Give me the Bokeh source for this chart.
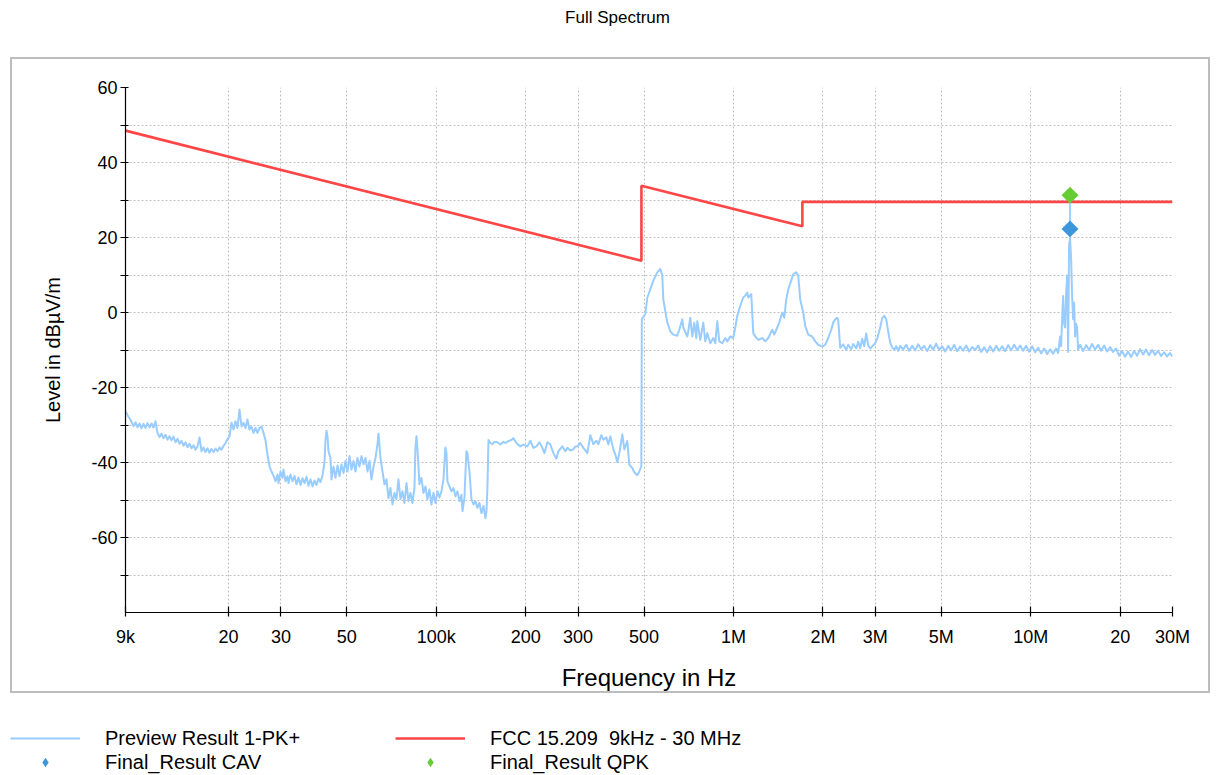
import numpy as np
from bokeh.plotting import figure
from bokeh.layouts import column
from bokeh.models import FixedTicker, Legend, LegendItem, Label
from bokeh.embed import file_html
from bokeh.resources import INLINE

# ---------------- data ----------------
title_text = "Full Spectrum"
x_label = "Frequency in Hz"
y_label = "Level in dBµV/m"

x_tick_values = [9000, 20000, 30000, 50000, 100000, 200000, 300000, 500000,
                 1000000, 2000000, 3000000, 5000000, 10000000, 20000000, 30000000]
x_tick_labels = ["9k", "20", "30", "50", "100k", "200", "300", "500",
                 "1M", "2M", "3M", "5M", "10M", "20", "30M"]
y_tick_values = [-70, -60, -50, -40, -30, -20, -10, 0, 10, 20, 30, 40, 50, 60]
y_tick_labels = ["", "-60", "", "-40", "", "-20", "", "0", "", "20", "", "40", "", "60"]

# Preview Result 1-PK+ (frequency in kHz, level in dBµV/m)
preview_freq_khz = [
    9.00, 9.21, 9.36, 9.58, 9.73, 9.88, 10.03, 10.19, 10.35, 10.51, 10.67, 10.84,
    11.01, 11.18, 11.35, 11.53, 11.71, 11.89, 12.08, 12.27, 12.46, 12.65, 12.85, 13.05,
    13.26, 13.47, 13.68, 13.89, 14.11, 14.33, 14.55, 14.78, 15.01, 15.24, 15.48, 15.72,
    15.97, 16.22, 16.47, 16.73, 16.99, 17.25, 17.52, 17.80, 18.07, 18.36, 18.64, 18.93,
    19.23, 19.53, 19.83, 20.15, 20.46, 20.78, 21.10, 21.43, 21.77, 22.11, 22.45, 22.80,
    23.16, 23.52, 23.88, 24.26, 24.64, 25.02, 25.41, 25.81, 26.21, 26.62, 27.04, 27.46,
    27.89, 28.32, 28.77, 29.22, 29.45, 29.91, 30.37, 30.61, 31.09, 31.57, 31.82, 32.31,
    32.82, 33.33, 33.85, 34.38, 34.92, 35.46, 36.02, 36.58, 37.15, 37.73, 38.32, 38.92,
    39.53, 40.14, 40.77, 41.41, 42.05, 42.38, 42.71, 43.04, 43.38, 44.05, 44.40, 45.09,
    45.80, 46.51, 47.24, 47.97, 48.72, 49.48, 50.25, 51.04, 51.83, 52.64, 53.46, 54.29,
    55.14, 56.01, 56.88, 57.77, 58.67, 59.59, 60.52, 61.46, 62.42, 63.39, 63.89, 64.39,
    64.89, 65.90, 66.93, 67.98, 69.04, 70.11, 71.21, 72.32, 73.45, 74.59, 75.75, 76.93,
    78.14, 79.36, 80.60, 81.86, 83.13, 84.43, 85.08, 85.75, 86.42, 87.76, 89.14, 90.52,
    91.93, 93.36, 94.83, 96.31, 97.81, 99.34, 100.9, 102.5, 104.1, 105.7, 107.3, 108.2,
    109.0, 110.7, 112.5, 114.2, 116.0, 117.8, 119.7, 121.5, 122.5, 124.4, 125.4, 126.3,
    127.3, 129.3, 131.3, 133.4, 135.4, 137.5, 139.7, 141.8, 144.1, 146.3, 147.5, 148.6,
    149.8, 152.1, 154.5, 156.9, 160.6, 164.3, 168.2, 170.8, 174.8, 178.9, 181.7, 184.5,
    187.4, 191.8, 196.3, 199.4, 202.5, 207.3, 212.2, 217.2, 222.3, 227.5, 231.0, 236.5,
    242.0, 247.7, 253.5, 257.5, 265.6, 271.8, 276.1, 282.6, 289.2, 293.7, 298.3, 305.3,
    312.5, 322.3, 329.9, 337.6, 345.6, 351.0, 359.2, 364.8, 373.4, 379.2, 385.1, 394.2,
    400.3, 406.6, 412.9, 422.6, 429.2, 439.2, 446.1, 456.6, 463.7, 474.6, 482.1, 489.6,
    491.5, 505.0, 512.9, 524.9, 537.2, 554.1, 567.2, 576.0, 580.5, 598.8, 612.9, 627.3,
    646.9, 657.1, 672.5, 677.8, 699.0, 704.5, 715.5, 726.7, 738.0, 749.6, 755.4, 773.1,
    791.3, 803.6, 816.2, 835.4, 855.1, 868.4, 882.0, 895.7, 916.7, 938.2, 952.8, 975.3,
    998.2, 1013.8, 1029.6, 1053.8, 1078.6, 1095.5, 1112.5, 1121.1, 1147.5, 1165.4, 1183.6, 1211.5,
    1249.5, 1278.9, 1309.0, 1350.2, 1371.2, 1403.4, 1425.3, 1458.8, 1481.6, 1504.8, 1528.3, 1564.2,
    1588.5, 1626.0, 1651.3, 1677.0, 1716.4, 1743.2, 1784.3, 1840.3, 1883.6, 1927.9, 1988.6, 2035.2,
    2083.0, 2132.1, 2165.5, 2199.2, 2233.4, 2250.9, 2286.0, 2339.7, 2394.8, 2432.1, 2489.3, 2528.0,
    2587.6, 2628.1, 2669.1, 2710.6, 2753.1, 2796.0, 2839.5, 2884.0, 2951.7, 2997.6, 3044.4, 3116.1,
    3164.6, 3214.0, 3264.4, 3315.3, 3366.9, 3419.7, 3473.1, 3527.3, 3582.2, 3638.0, 3723.0, 3811.0,
    3900.0, 3992.0, 4086.0, 4182.0, 4281.0, 4381.0, 4484.0, 4589.0, 4698.0, 4808.0, 4921.0, 5037.0,
    5155.0, 5276.0, 5400.0, 5527.0, 5656.0, 5790.0, 5926.0, 6065.0, 6208.0, 6354.0, 6503.0, 6656.0,
    6813.0, 6973.0, 7136.0, 7304.0, 7476.0, 7652.0, 7832.0, 8015.0, 8204.0, 8397.0, 8594.0, 8796.0,
    9003.0, 9215.0, 9431.0, 9653.0, 9880.0, 10111.0, 10350.0, 10593.0, 10842.0, 11097.0, 11358.0, 11624.0,
    11897.0, 12177.0, 12368.0, 12561.0, 12659.0, 12756.0, 12856.0, 12956.0, 13056.0, 13159.0, 13261.0, 13363.0,
    13468.0, 13572.0, 13678.0, 13784.0, 13891.0, 13999.0, 14107.0, 14217.0, 14327.0, 14438.0, 14664.0, 15010.0,
    15362.0, 15724.0, 16093.0, 16471.0, 16858.0, 17254.0, 17659.0, 18074.0, 18500.0, 18935.0, 19380.0, 19835.0,
    20301.0, 20777.0, 21265.0, 21766.0, 22277.0, 22801.0, 23337.0, 23885.0, 24449.0, 25023.0, 25608.0, 26211.0,
    26829.0, 27459.0, 28105.0, 28765.0, 29441.0, 30000.0,
]
preview_level = [
    -26.4, -27.8, -28.6, -30.3, -29.3, -30.6, -29.6, -30.9, -29.7, -30.8, -29.5, -30.6,
    -29.6, -30.7, -29.0, -32.1, -33.2, -32.3, -33.5, -32.6, -33.9, -33.0, -34.1, -33.1,
    -34.6, -33.7, -35.0, -34.2, -35.5, -34.6, -35.9, -35.0, -36.2, -35.4, -36.6, -35.7,
    -33.3, -37.0, -36.0, -37.2, -36.2, -37.4, -36.4, -37.2, -36.3, -37.0, -36.0, -36.6,
    -35.6, -34.8, -33.8, -33.0, -29.4, -31.2, -29.0, -30.8, -25.9, -30.4, -29.4, -30.8,
    -28.5, -31.2, -30.4, -32.1, -30.8, -32.1, -30.8, -30.4, -32.1, -34.0, -38.0, -41.0,
    -42.4, -43.5, -45.0, -43.2, -45.5, -42.4, -44.1, -41.9, -45.0, -43.7, -45.5, -43.2,
    -45.0, -43.6, -45.8, -44.0, -46.0, -44.2, -45.5, -43.8, -46.2, -44.5, -46.4, -44.8,
    -46.0, -44.3, -45.2, -43.5, -40.0, -34.0, -31.5, -33.0, -37.0, -38.8, -44.5, -41.1,
    -44.1, -40.8, -43.7, -40.5, -42.8, -39.6, -42.4, -38.3, -41.9, -39.6, -42.4, -38.8,
    -41.1, -38.3, -40.5, -38.8, -42.4, -39.6, -44.5, -41.1, -38.8, -35.2, -32.3, -35.5,
    -38.8, -42.4, -45.8, -44.5, -49.5, -46.8, -51.2, -48.1, -49.8, -44.5, -49.8, -47.7,
    -50.8, -45.5, -50.3, -48.1, -50.8, -46.8, -36.0, -33.0, -36.3, -45.8, -44.1, -48.1,
    -46.4, -49.8, -47.2, -51.2, -48.1, -50.8, -47.7, -49.3, -47.7, -44.5, -36.0, -37.5,
    -45.0, -46.4, -47.7, -46.8, -49.0, -47.7, -50.3, -48.6, -53.0, -49.3, -42.4, -37.0,
    -37.5, -42.4, -49.8, -51.2, -50.3, -52.1, -50.8, -53.5, -51.6, -54.8, -53.0, -46.8,
    -34.0, -34.8, -35.1, -34.5, -34.6, -35.2, -34.5, -34.8, -34.3, -34.0, -33.5, -34.4,
    -35.1, -35.7, -35.2, -35.5, -35.7, -34.2, -36.1, -35.7, -34.6, -36.1, -37.5, -34.6,
    -35.2, -37.5, -39.0, -37.0, -35.7, -37.0, -36.1, -36.8, -36.5, -35.7, -35.7, -34.8,
    -36.1, -37.5, -32.7, -35.1, -34.2, -35.1, -32.7, -33.9, -33.3, -35.2, -33.0, -36.5,
    -37.9, -39.9, -37.5, -32.5, -36.5, -34.3, -40.6, -41.5, -42.6, -43.4, -42.4, -41.0,
    -1.8, -0.4, 4.0, 6.2, 8.5, 10.7, 11.6, 9.8, 3.5, -2.7, -5.0, -5.9,
    -6.2, -4.6, -1.8, -4.0, -6.4, -5.0, -1.4, -6.4, -2.7, -6.8, -2.3, -7.3,
    -2.7, -7.7, -5.5, -8.2, -6.8, -8.2, -2.3, -7.7, -8.2, -6.8, -7.7, -6.4,
    -6.8, -4.0, -0.9, 1.8, 4.0, 4.5, 5.3, 4.0, 4.9, -5.5, -6.4, -7.3,
    -6.8, -7.7, -6.8, -4.6, -5.9, -4.0, -2.7, 0.0, -1.4, 3.5, 6.2, 8.5,
    10.2, 10.7, 9.8, 3.5, 0.0, -3.6, -5.9, -6.4, -7.7, -8.6, -9.1, -8.6,
    -6.8, -4.6, -2.7, -1.8, -1.4, -2.0, -9.4, -8.5, -10.0, -8.6, -9.8, -8.4,
    -9.6, -7.8, -9.5, -7.0, -9.0, -5.6, -8.8, -9.6, -8.8, -8.2, -6.9, -4.0,
    -1.5, -0.9, -1.8, -5.1, -8.0, -9.3, -10.0, -9.0, -10.2, -8.9, -9.9, -8.6,
    -10.2, -8.9, -10.1, -8.5, -9.8, -8.9, -10.3, -8.7, -9.9, -8.3, -10.0, -9.0,
    -10.4, -8.9, -10.1, -8.6, -10.3, -9.1, -10.2, -8.8, -10.4, -9.2, -10.0, -8.8,
    -10.5, -9.3, -10.6, -9.0, -10.4, -8.9, -10.2, -9.0, -10.3, -8.7, -10.1, -8.6,
    -10.0, -8.8, -10.2, -8.9, -10.4, -9.0, -10.6, -9.4, -10.9, -9.6, -11.1, -9.8,
    -11.0, -9.6, -10.8, -6.4, -9.0, -1.8, 4.4, -3.0, -4.0, 5.0, 9.9, -10.5,
    18.3, 19.6, 14.3, 4.4, -1.8, 2.6, -6.4, -3.0, -4.0, -10.0, -8.6, -10.3,
    -8.7, -10.0, -8.4, -9.9, -8.6, -10.2, -8.8, -10.4, -9.2, -10.5, -9.6, -11.5,
    -10.3, -11.8, -10.4, -11.9, -10.2, -11.5, -9.8, -11.2, -9.9, -11.4, -10.0, -11.3,
    -10.2, -11.6, -10.6, -11.7, -10.8, -11.8,
]

# FCC 15.209 limit (Hz, dBµV/m)
limit_freq = [9000, 490000, 490000, 1705000, 1705000, 30000000]
limit_level = [48.5, 13.8, 33.8, 23.0, 29.5, 29.5]

# Final results
cav_freq = [13560000]
cav_level = [22.3]
qpk_freq = [13560000]
qpk_level = [31.3]

legend_labels = ["Preview Result 1-PK+", "Final_Result CAV",
                 "FCC 15.209  9kHz - 30 MHz", "Final_Result QPK"]

# ---------------- styling ----------------
FONT = "Liberation Sans"
preview_color = "#99CCFF"
limit_color = "#FF4646"
cav_color = "#3C96DC"
qpk_color = "#66CC33"
frame_color = "#bdbdbd"
W = 1216
TOP_H, MAIN_H, LEG_H = 57, 643, 75

preview_freq = np.array(preview_freq_khz) * 1e3


def no_align(f):
    if "frame_align" in f.properties():
        f.frame_align = False
    return f


def bare_figure(height):
    # strip whose own ranges (0..1) lie far outside every data value
    f = figure(width=W, height=height, x_range=(0, 1), y_range=(0, 1),
               output_backend="svg", toolbar_location=None,
               x_axis_location=None, y_axis_location=None,
               min_border=0, min_border_left=0, min_border_right=0,
               min_border_top=0, min_border_bottom=0)
    f.grid.visible = False
    f.outline_line_color = None
    f.background_fill_color = "white"
    f.border_fill_color = "white"
    return no_align(f)


# ---- title strip ----
top = bare_figure(TOP_H)
top.add_layout(Label(x=617, y=TOP_H - 17, x_units="screen", y_units="screen",
                     text=title_text, text_align="center", text_baseline="middle",
                     text_font=FONT, text_font_size="17px", text_color="black"))

# ---- main chart ----
p = figure(width=W, height=MAIN_H, x_axis_type="log",
           x_range=(9000, 30000000), y_range=(-80, 60),
           output_backend="svg", toolbar_location=None,
           min_border_left=125, min_border_right=44,
           min_border_top=30, min_border_bottom=88)
no_align(p)
p.outline_line_color = None
p.background_fill_color = "white"
p.border_fill_color = None

g = f"linear-gradient({frame_color},{frame_color})"
p.styles = {"background": (
    f"{g} 10px 0px / 1200px 2px no-repeat, "
    f"{g} 10px 634px / 1200px 2px no-repeat, "
    f"{g} 10px 0px / 2px 636px no-repeat, "
    f"{g} 1208px 0px / 2px 636px no-repeat, #ffffff")}

p.xaxis.ticker = FixedTicker(ticks=x_tick_values, minor_ticks=[])
p.xaxis.major_label_overrides = {int(v): t for v, t in zip(x_tick_values, x_tick_labels)}
p.yaxis.ticker = FixedTicker(ticks=y_tick_values, minor_ticks=[])
p.yaxis.major_label_overrides = {int(v): t for v, t in zip(y_tick_values, y_tick_labels)}

for ax in (p.xaxis[0], p.yaxis[0]):
    ax.axis_line_color = "black"
    ax.axis_line_width = 1.2
    ax.major_tick_line_color = "black"
    ax.major_tick_line_width = 1.2
    ax.minor_tick_line_color = None
    ax.major_label_text_font = FONT
    ax.major_label_text_font_size = "18px"
    ax.major_label_text_color = "black"
    ax.axis_label_text_font = FONT
    ax.axis_label_text_font_style = "normal"
    ax.axis_label_text_color = "black"

p.xaxis.major_tick_in = 6
p.xaxis.major_tick_out = 4
p.xaxis.major_label_standoff = 10
p.xaxis.axis_label = x_label
p.xaxis.axis_label_text_font_size = "24px"
p.xaxis.axis_label_standoff = 14

p.yaxis.major_tick_in = 3
p.yaxis.major_tick_out = 5
p.yaxis.major_label_standoff = 3
p.yaxis.axis_label = y_label
p.yaxis.axis_label_text_font_size = "20px"
p.yaxis.axis_label_standoff = 24

p.grid.grid_line_color = "#c0c0c0"
p.grid.grid_line_dash = "2 2"
p.grid.grid_line_width = 1

prev_kw = dict(line_color=preview_color, line_width=2.0, line_join="round")
lim_kw = dict(line_color=limit_color, line_width=2.6)
marker_kw = dict(marker="square", angle=np.pi / 4, size=12, line_color=None)

p.line(preview_freq, preview_level, **prev_kw)
p.line(limit_freq, limit_level, **lim_kw)

peak_level = max(preview_level)
p.segment(x0=qpk_freq, y0=[peak_level], x1=qpk_freq, y1=qpk_level,
          line_color=preview_color, line_width=1.8)

p.scatter(cav_freq, cav_level, fill_color=cav_color, **marker_kw)
p.scatter(qpk_freq, qpk_level, fill_color=qpk_color, **marker_kw)

# ---- legend strip: same series, but this strip's 0..1 ranges hide the data ----
leg = bare_figure(LEG_H)
s_prev = leg.line(preview_freq, preview_level, **prev_kw)
s_lim = leg.line(limit_freq, limit_level, **lim_kw)
s_cav = leg.scatter(cav_freq, cav_level, marker="diamond", fill_color=cav_color, line_color=None)
s_qpk = leg.scatter(qpk_freq, qpk_level, marker="diamond", fill_color=qpk_color, line_color=None)

legend_kw = dict(orientation="vertical",
                 glyph_width=70, glyph_height=24, label_height=24, spacing=0,
                 label_standoff=25, padding=0, margin=0,
                 border_line_alpha=0, background_fill_alpha=0,
                 label_text_font=FONT, label_text_font_size="20px",
                 label_text_color="black")
# location = bottom-left corner of each legend block, in px from the strip's bottom-left
leg.add_layout(Legend(items=[LegendItem(label=legend_labels[0], renderers=[s_prev]),
                             LegendItem(label=legend_labels[1], renderers=[s_cav])],
                      location=(10, 1), **legend_kw))
leg.add_layout(Legend(items=[LegendItem(label=legend_labels[2], renderers=[s_lim]),
                             LegendItem(label=legend_labels[3], renderers=[s_qpk])],
                      location=(395, 1), **legend_kw))

layout = column(top, p, leg, spacing=0)
open("out.html", "w").write(file_html(layout, INLINE))
